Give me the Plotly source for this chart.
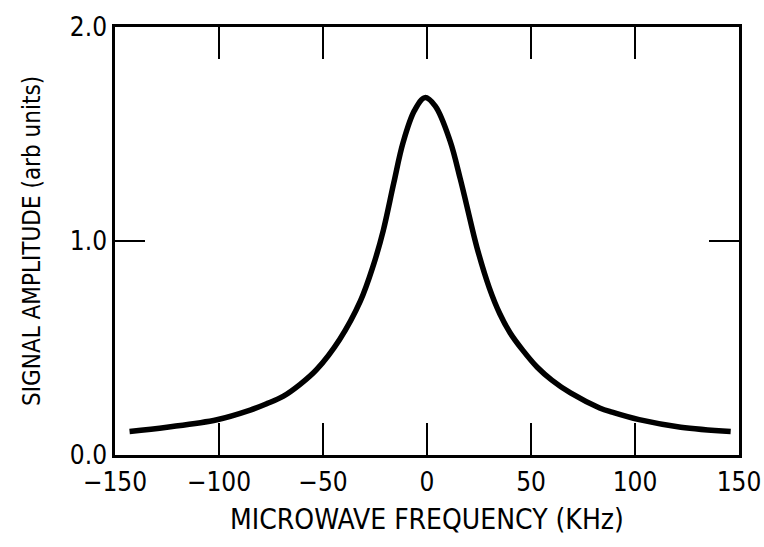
import plotly.graph_objects as go

# Data
freq_khz = [-143, -125, -101, -85, -77, -69, -61, -53, -42, -32, -26, -21, -16, -11.5,
            -6, -1, 4, 11, 16, 19, 24, 30, 35, 40, 46, 53, 60, 69, 83, 89, 102, 122, 146]
amplitude = [0.11, 0.13, 0.165, 0.21, 0.24, 0.275, 0.33, 0.40, 0.54, 0.72, 0.88, 1.05, 1.27, 1.46,
             1.61, 1.67, 1.63, 1.47, 1.29, 1.17, 0.97, 0.78, 0.66, 0.57, 0.49, 0.41, 0.35, 0.29, 0.22, 0.20, 0.165, 0.13, 0.11]

x_tickvals = [-150, -100, -50, 0, 50, 100, 150]
x_ticktext = ["\u2212150", "\u2212100", "\u221250", "0", "50", "100", "150"]
y_tickvals = [0.0, 1.0, 2.0]
y_ticktext = ["0.0", "1.0", "2.0"]

FONT = "Liberation Sans Narrow, Arial Narrow, DejaVu Sans Condensed, Liberation Sans, sans-serif"

fig = go.Figure()
fig.add_trace(go.Scatter(
    x=freq_khz, y=amplitude, mode="lines",
    line=dict(color="black", width=5.5, shape="spline", smoothing=1.0),
    hoverinfo="skip", showlegend=False,
))

fig.update_layout(
    width=764, height=547,
    margin=dict(l=115, r=25, t=27, b=92),
    paper_bgcolor="white", plot_bgcolor="white",
    font=dict(family=FONT, size=26, color="black"),
)

fig.update_xaxes(
    range=[-150, 150], tickmode="array", tickvals=x_tickvals, ticktext=x_ticktext,
    showgrid=False, zeroline=False,
    showline=True, linecolor="black", linewidth=2.5, mirror="ticks",
    ticks="inside", ticklen=32, tickwidth=2, tickcolor="black",
    tickfont=dict(family=FONT, size=26, color="black"), ticklabelstandoff=2,
    title=dict(text="MICROWAVE FREQUENCY (KHz)", font=dict(family=FONT, size=28, color="black"), standoff=14),
    automargin=False,
)
fig.update_yaxes(
    range=[0, 2.0], tickmode="array", tickvals=y_tickvals, ticktext=y_ticktext,
    showgrid=False, zeroline=False,
    showline=True, linecolor="black", linewidth=2.5, mirror="ticks",
    ticks="inside", ticklen=30, tickwidth=2, tickcolor="black",
    tickfont=dict(family=FONT, size=26, color="black"),
    title=dict(text="SIGNAL AMPLITUDE (arb units)", font=dict(family=FONT, size=24, color="black"), standoff=23),
    automargin=False,
)

fig.write_html("out.html")
